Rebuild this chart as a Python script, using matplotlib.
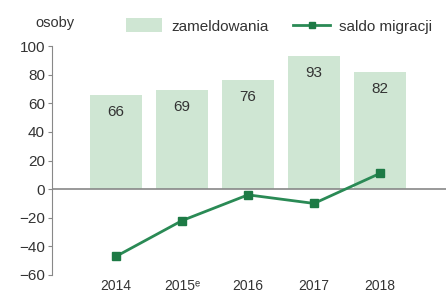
import matplotlib
matplotlib.use("Agg")
import matplotlib.pyplot as plt
import numpy as np

plt.rcParams["font.family"] = ["Liberation Sans", "DejaVu Sans"]

years = ["2014", "2015ᵉ", "2016", "2017", "2018"]
zameldowania = [66, 69, 76, 93, 82]
saldo = [-47, -22, -4, -10, 11]

BAR_COLOR = "#cfe6d3"
LINE_COLOR = "#2a8a55"
MARK_COLOR = "#1d7a45"
TEXT_COLOR = "#333333"
AXIS_COLOR = "#888888"

fig = plt.figure(figsize=(4.46, 2.94), dpi=100)
ax = fig.add_axes([52 / 446, 19 / 294, 394 / 446, 229 / 294])

x = np.arange(len(years))
bars = ax.bar(x, zameldowania, width=0.8, color=BAR_COLOR, label="zameldowania", zorder=1)
for xi, v in zip(x, zameldowania):
    ax.annotate(str(v), (xi, v), xytext=(0, -17), textcoords="offset pixels",
                ha="center", va="center", fontsize=11, color=TEXT_COLOR)

ax.axhline(0, color=AXIS_COLOR, lw=1.2, zorder=2)
line, = ax.plot(x, saldo, color=LINE_COLOR, lw=2, marker="s", markersize=6,
                markerfacecolor=MARK_COLOR, markeredgecolor=MARK_COLOR,
                label="saldo migracji", zorder=3)

ax.set_xlim(-0.97, 5.0)
ax.set_ylim(-60, 100)
ax.set_yticks(range(-60, 101, 20))
ax.set_xticks(x)
ax.set_xticklabels(years)

for s in ["top", "right", "bottom"]:
    ax.spines[s].set_visible(False)
ax.spines["left"].set_color(AXIS_COLOR)
ax.tick_params(axis="y", colors=AXIS_COLOR, labelcolor=TEXT_COLOR, labelsize=11,
               length=3, pad=2)
ax.tick_params(axis="x", length=0, labelcolor=TEXT_COLOR, labelsize=10, pad=3)

fig.text(35 / 446, 1 - 23 / 294, "osoby", fontsize=10.5, color=TEXT_COLOR,
         ha="left", va="center")
fig.legend(handles=[bars, line], loc="center right",
           bbox_to_anchor=(1.0, 1 - 26 / 294), ncol=2,
           frameon=False, fontsize=11, handlelength=2.4, handleheight=1.0,
           columnspacing=1.6, handletextpad=0.6, labelcolor=TEXT_COLOR,
           markerscale=0.8)

fig.savefig("out.png", dpi=100)
